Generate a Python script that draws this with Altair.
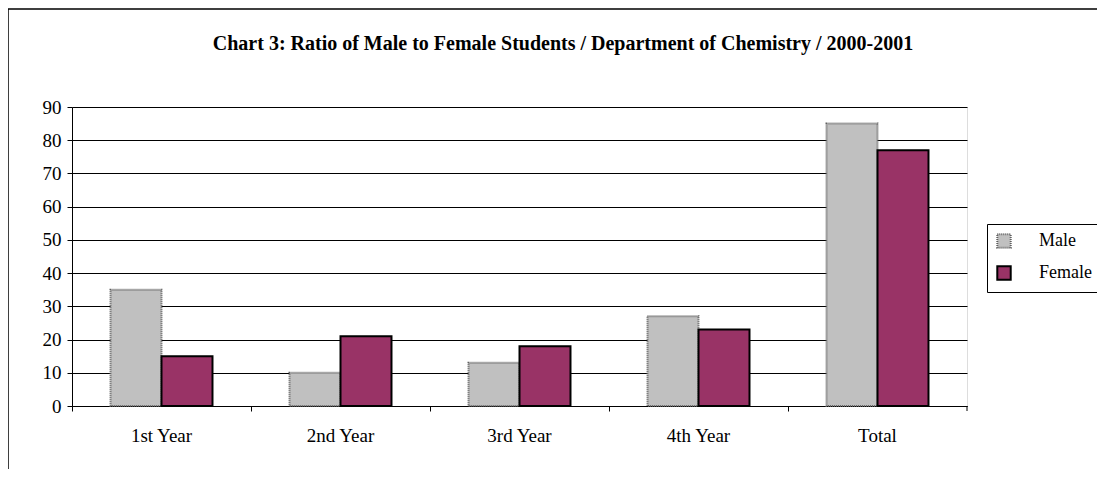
import altair as alt
import pandas as pd

categories = ["1st Year", "2nd Year", "3rd Year", "4th Year", "Total"]
male = [35, 10, 13, 27, 85]
female = [15, 21, 18, 23, 77]
series = ["Male", "Female"]
y_ticks = [0, 10, 20, 30, 40, 50, 60, 70, 80, 90]
title = "Chart 3: Ratio of Male to Female Students / Department of Chemistry / 2000-2001"

rows = []
for c, m, f in zip(categories, male, female):
    rows.append({"cat": c, "sex": "Male", "val": m})
    rows.append({"cat": c, "sex": "Female", "val": f})
df = pd.DataFrame(rows)

FONT = "Liberation Serif"
W, H = 895, 299

bars = alt.Chart(df).mark_bar(strokeWidth=2).encode(
    x=alt.X("cat:N", sort=categories, title=None,
            scale=alt.Scale(paddingInner=0, paddingOuter=0),
            axis=alt.Axis(labelAngle=0, bandPosition=0, tickSize=5, tickColor="#000",
                          domainColor="#000", labelFontSize=19, labelPadding=15,
                          labelFont=FONT, labelColor="#000", grid=False)),
    xOffset=alt.XOffset("sex:N", sort=series, scale=alt.Scale(paddingInner=0, paddingOuter=0.755)),
    y=alt.Y("val:Q", title=None,
            scale=alt.Scale(domain=[0, 90], nice=False),
            axis=alt.Axis(values=y_ticks, tickSize=5, tickColor="#000", domainColor="#000",
                          labelFontSize=19, labelFont=FONT, labelColor="#000", labelPadding=6,
                          grid=True, gridColor="#000", gridWidth=1)),
    fill=alt.Fill("sex:N", sort=series, title=None,
                  scale=alt.Scale(domain=series, range=["#C0C0C0", "#993366"]),
                  legend=alt.Legend(orient="none", legendX=915, legendY=117,
                                    symbolType="square", symbolSize=180,
                                    labelFont=FONT, labelFontSize=18, labelColor="#000",
                                    labelOffset=26, rowPadding=10, padding=8,
                                    strokeColor="#000", symbolStrokeWidth=2)),
    stroke=alt.Stroke("sex:N", sort=series, title=None,
                      scale=alt.Scale(domain=series, range=["#606060", "#000000"])),
    strokeDash=alt.StrokeDash("sex:N", sort=series, title=None,
                              scale=alt.Scale(domain=series, range=[[1, 1], [1, 0]])),
)

end_tick = alt.Chart(pd.DataFrame({"a": [0]})).mark_rule(color="#000", strokeWidth=1).encode(
    x=alt.value(W), y=alt.value(H), y2=alt.value(H + 5)
)

frame = alt.Chart(pd.DataFrame({"a": [0]})).mark_rect(
    fill=None, stroke="#000", strokeWidth=1.5, clip=False
).encode(
    x=alt.value(-64), x2=alt.value(1100), y=alt.value(-98), y2=alt.value(470)
)

title_text = alt.Chart(pd.DataFrame({"t": [title]})).mark_text(
    font=FONT, fontSize=20, fontWeight="bold", color="#000", align="center", baseline="alphabetic"
).encode(text="t:N", x=alt.value(491), y=alt.value(-57))

chart = alt.layer(frame, bars, end_tick, title_text).properties(
    width=W, height=H,
    autosize=alt.AutoSizeParams(type="none"),
    padding={"left": 64, "top": 99, "right": 130, "bottom": 63},
).configure_view(stroke="#808080", strokeWidth=2).configure(background="white")

chart.save("out.html", embed_options={"renderer": "svg", "actions": False})
